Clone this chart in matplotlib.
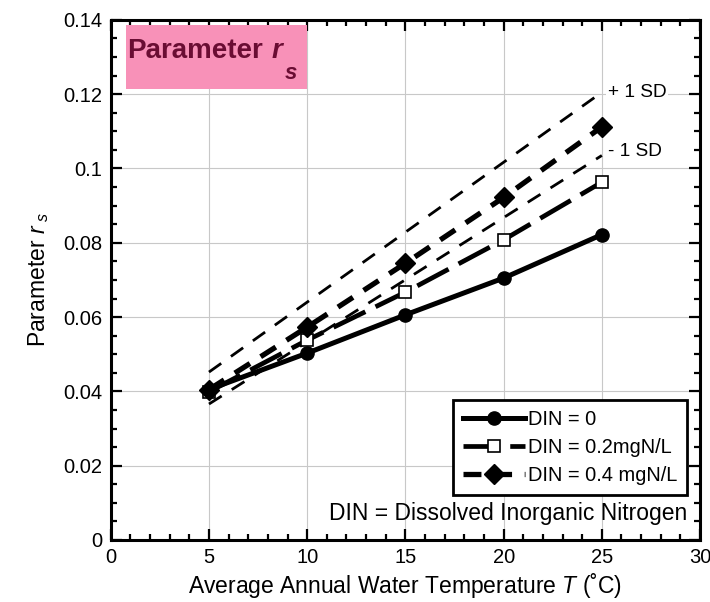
import numpy as np
import matplotlib
matplotlib.use('Agg')
import matplotlib.pyplot as plt
from matplotlib.ticker import MultipleLocator
from matplotlib.patches import Rectangle

plt.rcParams['font.family'] = ['Liberation Sans', 'DejaVu Sans']
plt.rcParams['mathtext.fontset'] = 'custom'
plt.rcParams['mathtext.rm'] = 'Liberation Sans'
plt.rcParams['mathtext.it'] = 'Liberation Sans:italic'
plt.rcParams['mathtext.bf'] = 'Liberation Sans:bold:italic'

# data ---------------------------------------------------------------
temp = [5, 10, 15, 20, 25]
din_0 = [0.0405, 0.0503, 0.0606, 0.0705, 0.0822]
din_02 = [0.0399, 0.0538, 0.0667, 0.0808, 0.0963]
din_04 = [0.0405, 0.0573, 0.0745, 0.0922, 0.1112]
sd_x = [5, 25]
sd_plus = [0.0452, 0.1205]
sd_minus = [0.0366, 0.1035]
labels = ['DIN = 0', 'DIN = 0.2mgN/L', 'DIN = 0.4 mgN/L']

# plot ---------------------------------------------------------------
fig = plt.figure(figsize=(7.1, 6.02), dpi=100)
ax = fig.add_axes([0.156, 0.103, 0.830, 0.864])

ax.plot(sd_x, sd_plus, color='black', lw=2, dashes=(5.4, 4.3), zorder=3)
ax.plot(sd_x, sd_minus, color='black', lw=2, dashes=(5.4, 4.3), zorder=3)
ax.plot(temp, din_0, color='black', lw=3.6, marker='o', ms=9.5, label=labels[0], zorder=4)
ax.plot(temp, din_02, color='black', lw=3.4, dashes=(7.5, 2.4), marker='s', ms=9,
        mfc='white', mec='black', mew=1.2, label=labels[1], zorder=4)
ax.plot(temp, din_04, color='black', lw=3.8, dashes=(3.4, 2.4), marker='D', ms=10,
        label=labels[2], zorder=4)

ax.set_xlim(0, 30)
ax.set_ylim(0, 0.14)
ax.xaxis.set_major_locator(MultipleLocator(5))
ax.xaxis.set_minor_locator(MultipleLocator(1))
ax.yaxis.set_minor_locator(MultipleLocator(0.005))
ax.set_yticks([0, 0.02, 0.04, 0.06, 0.08, 0.1, 0.12, 0.14])
ax.set_yticklabels(['0', '0.02', '0.04', '0.06', '0.08', '0.1', '0.12', '0.14'])
ax.tick_params(which='both', direction='in', top=True, right=True, width=1.6,
               labelsize=14.5, pad=6)
ax.tick_params(which='major', length=8)
ax.tick_params(which='minor', length=4.5)
for s in ax.spines.values():
    s.set_linewidth(2.2)
ax.grid(True, which='major', color='#c8c8c8', lw=0.8)
ax.set_axisbelow(True)

ax.set_xlabel('Average Annual Water Temperature $T$ (˚C)', fontsize=16.5, labelpad=3)
ax.set_ylabel('Parameter $r_{\\ s}$', fontsize=16.5, labelpad=9)

ax.text(25.3, sd_plus[1], '+ 1 SD', fontsize=13.7, va='center', ha='left',
        bbox=dict(facecolor='white', edgecolor='none', pad=1), zorder=5)
ax.text(25.3, sd_minus[1] + 0.0012, '- 1 SD', fontsize=13.7, va='center', ha='left',
        bbox=dict(facecolor='white', edgecolor='none', pad=1), zorder=5)

# title box
ax.add_patch(Rectangle((0.0255, 0.867), 0.308, 0.123, transform=ax.transAxes,
                       facecolor='#f891b8', edgecolor='none', zorder=2))
ax.text(0.027, 0.94, 'Parameter', transform=ax.transAxes, fontsize=20,
        fontweight='bold', color='#6a0d33', va='center', ha='left', zorder=3)
ax.text(0.272, 0.94, 'r', transform=ax.transAxes, fontsize=20, fontstyle='italic',
        fontweight='bold', color='#6a0d33', va='center', ha='left', zorder=3)
ax.text(0.296, 0.897, 's', transform=ax.transAxes, fontsize=16, fontstyle='italic',
        fontweight='bold', color='#6a0d33', va='center', ha='left', zorder=3)

ax.text(0.978, 0.05, 'DIN = Dissolved Inorganic Nitrogen', transform=ax.transAxes,
        fontsize=16.5, ha='right', va='center')

leg = ax.legend(loc='lower right', bbox_to_anchor=(0.978, 0.0865), borderaxespad=0,
                fancybox=False, framealpha=1, edgecolor='black', fontsize=14.4,
                handlelength=3.1, handletextpad=0.15, labelspacing=0.45, borderpad=0.5)
leg.get_frame().set_linewidth(2)

fig.savefig('out.png', dpi=100)
